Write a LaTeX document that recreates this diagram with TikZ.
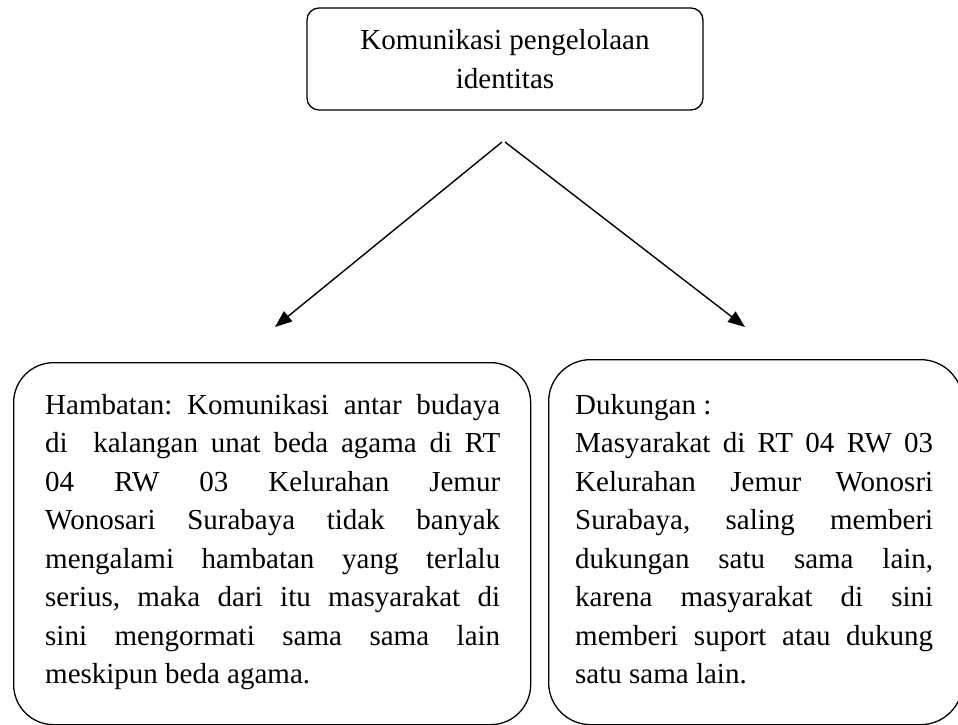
\documentclass[tikz,border=0pt]{standalone}
\usepackage{fontspec}
\setmainfont{Liberation Serif}
\usetikzlibrary{arrows.meta}
\newcommand{\jl}[1]{\hbox to \linewidth{\spaceskip=0.25em plus 1fil\relax #1}}
\tikzset{
  box/.style={draw, line width=1.3pt, inner sep=0pt},
  conn/.style={line width=1.4pt, -{Triangle[length=17pt,width=13pt]}},
  txt/.style={anchor=base west, inner sep=0pt}
}
\begin{document}
\begin{tikzpicture}[x=1pt,y=-1pt,font=\fontsize{29}{38.5}\selectfont]
\useasboundingbox (0,0) rectangle (958,725);
\clip (0,0) rectangle (958,725);
\node[box, rounded corners=12pt, minimum width=396pt, minimum height=102pt, align=center] (top) at (505,59) {Komunikasi pengelolaan\\identitas};
\node[box, rounded corners=40pt, minimum width=517pt, minimum height=362pt, anchor=north west] (hamb) at (13,362) {};
\node[box, rounded corners=42pt, minimum width=414pt, minimum height=365pt, anchor=north west] (duk) at (548,359) {};
\node[txt] (hambtext) at (45,414) {\parbox[t]{455pt}{\frenchspacing
\jl{Hambatan: Komunikasi antar budaya}
\jl{di\ \ kalangan unat beda agama di RT}
\jl{04 RW 03 Kelurahan Jemur}
\jl{Wonosari Surabaya tidak banyak}
\jl{mengalami hambatan yang terlalu}
\jl{serius, maka dari itu masyarakat di}
\jl{sini mengormati sama sama lain}
\hbox{meskipun beda agama.}}};
\node[txt] (duktext) at (575,414) {\parbox[t]{358pt}{\frenchspacing
\hbox{Dukungan :}
\jl{Masyarakat di RT 04 RW 03}
\jl{Kelurahan Jemur Wonosri}
\jl{Surabaya, saling memberi}
\jl{dukungan satu sama lain,}
\jl{karena masyarakat di sini}
\jl{memberi suport atau dukung}
\hbox{satu sama lain.}}};
\coordinate (apexL) at (502,142);
\coordinate (apexR) at (505,142);
\coordinate (tipL) at (275,327);
\coordinate (tipR) at (745,327);
\draw[conn] (apexL) -- (tipL);
\draw[conn] (apexR) -- (tipR);
\end{tikzpicture}
\end{document}
